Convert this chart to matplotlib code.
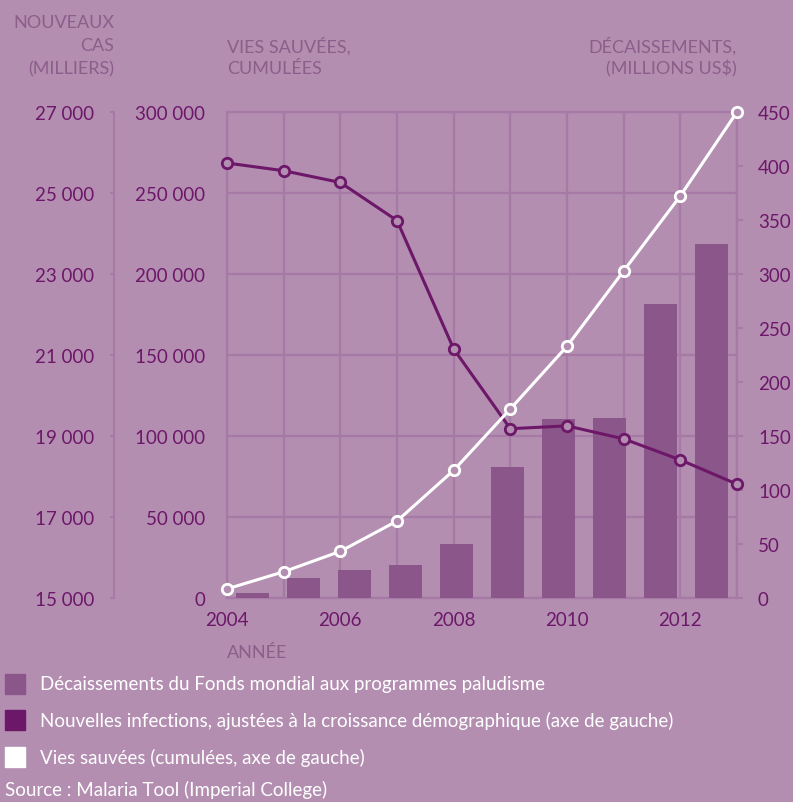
import numpy as np
import matplotlib
matplotlib.use("Agg")
import matplotlib.pyplot as plt
from matplotlib.patches import Rectangle

# ---- data ----
years = [2004, 2005, 2006, 2007, 2008, 2009, 2010, 2011, 2012, 2013]
disbursements = [5, 18.5, 26, 30.5, 50, 121, 165.5, 167, 272, 328]          # millions US$
new_cases = [25740, 25550, 25260, 24320, 21150, 19180, 19250, 18930, 18410, 17810]  # thousands
lives_saved = [5600, 16200, 28800, 47500, 78800, 116700, 155400, 201900, 248200, 300000]

year_ticks = [2004, 2006, 2008, 2010, 2012]
cases_ticks = [15000, 17000, 19000, 21000, 23000, 25000, 27000]
lives_ticks = [0, 50000, 100000, 150000, 200000, 250000, 300000]
disb_ticks = [0, 50, 100, 150, 200, 250, 300, 350, 400, 450]

legend_labels = [
    "Décaissements du Fonds mondial aux programmes paludisme",
    "Nouvelles infections, ajustées à la croissance démographique (axe de gauche)",
    "Vies sauvées (cumulées, axe de gauche)",
]
source_text = "Source : Malaria Tool (Imperial College)"

# ---- style ----
BG = "#B38EB1"
GRID = "#A67AA4"
BAR = "#8B5689"
DARK = "#6D1769"
TITLE = "#8C5E8A"
FONT = ["Lato", "DejaVu Sans"]
NARROW = ["Liberation Sans Narrow", "Lato", "DejaVu Sans"]
TICK_SIZE = 13.5

plt.rcParams["font.family"] = FONT


def fmt(v):
    return f"{v:,}".replace(",", " ")


W, H = 793, 803
PX = 72 / 100  # points per pixel at 100 dpi
fig = plt.figure(figsize=(W / 100, H / 100), dpi=100, facecolor=BG)

L, R, T, B = 227, 737, 113, 599
CASES_X = 114
ax = fig.add_axes([L / W, 1 - B / H, (R - L) / W, (B - T) / H])
ax.set_facecolor(BG)
ax.set_xlim(years[0], years[-1])
ax.set_ylim(lives_ticks[0], lives_ticks[-1])
ax.set_xticks(years)
ax.set_xticklabels([str(y) if y in year_ticks else "" for y in years])
ax.set_yticks(lives_ticks)
ax.set_yticklabels([fmt(v) for v in lives_ticks])
ax.grid(True, color=GRID, lw=1.6)
ax.set_axisbelow(True)
for s in ax.spines.values():
    s.set_color(GRID)
    s.set_linewidth(1.6)
ax.tick_params(axis="y", length=0, pad=22 * PX, labelcolor=DARK, labelsize=TICK_SIZE)
ax.tick_params(axis="x", length=0, pad=13 * PX, labelcolor=DARK, labelsize=TICK_SIZE)

# bars on a band scale across the year range, right-hand axis
axb = ax.twinx()
axb.set_ylim(disb_ticks[0], disb_ticks[-1])
band = (years[-1] - years[0]) / len(years)
centers = years[0] + band * (np.arange(len(years)) + 0.5)
axb.bar(centers, disbursements, width=band * 0.65, color=BAR, zorder=1)
axb.set_yticks(disb_ticks)
axb.set_yticklabels([str(v) for v in disb_ticks])
for s in axb.spines.values():
    s.set_visible(False)
axb.tick_params(axis="y", length=6 * PX, width=1.5, color=GRID, pad=15 * PX,
                labelcolor=DARK, labelsize=TICK_SIZE)

# new infections: line on a twin of the main axes, scale shown on a
# separate thin axis further to the left
axc = ax.twinx()
axc.set_ylim(cases_ticks[0], cases_ticks[-1])
axc.axis("off")
axc.plot(years, new_cases, color=DARK, lw=2.2, marker="o", ms=7.5,
         mfc=BG, mec=DARK, mew=2, clip_on=False, zorder=3)

cax = fig.add_axes([CASES_X / W, 1 - B / H, 0.5 / W, (B - T) / H], sharey=axc)
cax.patch.set_visible(False)
for k in ("right", "top", "bottom"):
    cax.spines[k].set_visible(False)
cax.spines["left"].set_color(GRID)
cax.spines["left"].set_linewidth(1.5)
cax.set_xticks([])
cax.set_yticks(cases_ticks)
cax.set_yticklabels([fmt(v) for v in cases_ticks])
cax.tick_params(axis="y", left=True, right=False, labelleft=True, labelright=False,
                length=4 * PX, width=1.5, color=GRID, pad=16 * PX,
                labelcolor=DARK, labelsize=TICK_SIZE)

# lives saved on the inner left scale
axl = ax.twinx()
axl.set_ylim(lives_ticks[0], lives_ticks[-1])
axl.axis("off")
axl.plot(years, lives_saved, color="white", lw=2.2, marker="o", ms=7.5,
         mfc=BG, mec="white", mew=2, clip_on=False, zorder=4)

# axis titles
tkw = dict(color=TITLE, fontsize=13, va="center")
for i, line in enumerate(["NOUVEAUX", "CAS", "(MILLIERS)"]):
    fig.text(114 / W, 1 - (23 + 23 * i) / H, line, ha="right", **tkw)
for i, line in enumerate(["VIES SAUVÉES,", "CUMULÉES"]):
    fig.text(227 / W, 1 - (46 + 23 * i) / H, line, ha="left", **tkw)
for i, line in enumerate(["DÉCAISSEMENTS,", "(MILLIONS US$)"]):
    fig.text(737 / W, 1 - (46 + 23 * i) / H, line, ha="right", **tkw)
fig.text(227 / W, 1 - 653 / H, "ANNÉE", ha="left", **tkw)

# legend
sw_colors = [BAR, DARK, "white"]
ys = [685, 721, 758]
for c, lab, y in zip(sw_colors, legend_labels, ys):
    fig.patches.append(Rectangle((5 / W, 1 - (y + 10) / H), 20 / W, 20 / H,
                                 transform=fig.transFigure, color=c))
    fig.text(40 / W, 1 - y / H, lab, ha="left", va="center", color="white",
             fontsize=13.5, family=NARROW)
fig.text(5 / W, 1 - 790 / H, source_text, ha="left", va="center",
         color="white", fontsize=13.5, family=NARROW)

fig.savefig("out.png", dpi=100, facecolor=BG)
